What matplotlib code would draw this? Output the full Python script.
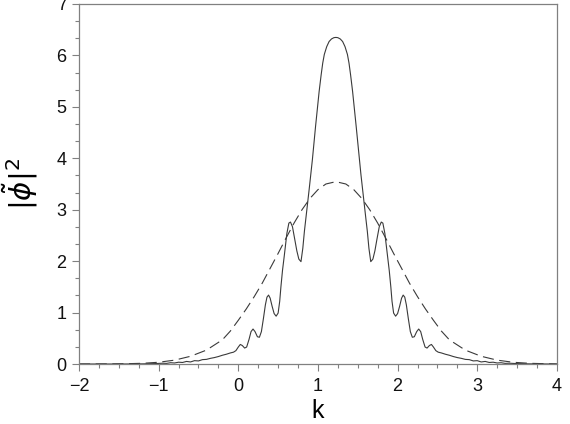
import numpy as np
import matplotlib.pyplot as plt

plt.rcParams['font.family'] = ['Liberation Sans', 'DejaVu Sans']
plt.rcParams['mathtext.fontset'] = 'dejavusans'

# solid curve: |phi~|^2 (k, value)
k_solid = [-2.0, -1.5, -1.2, -1.05, -0.95, -0.9, -0.85, -0.8, -0.75, -0.7,
           -0.65, -0.6, -0.55, -0.5, -0.45, -0.4, -0.35, -0.3, -0.25, -0.2,
           -0.15, -0.1, -0.06, -0.03, 0.0, 0.025, 0.05, 0.08, 0.105, 0.135,
           0.16, 0.185, 0.21, 0.24, 0.265, 0.29, 0.315, 0.34, 0.36, 0.38,
           0.40, 0.425, 0.45, 0.475, 0.50, 0.52, 0.535, 0.555, 0.577, 0.61,
           0.635, 0.655, 0.68, 0.71, 0.735, 0.76, 0.787, 0.81, 0.83, 0.85,
           0.87, 0.89, 0.91, 0.93, 0.95, 0.97, 0.995, 1.015, 1.04, 1.06,
           1.08, 1.11, 1.14, 1.17, 1.20, 1.225,
           1.25, 1.28, 1.31, 1.34, 1.37, 1.39, 1.41, 1.435, 1.455, 1.48,
           1.50, 1.52, 1.54, 1.56, 1.58, 1.60, 1.62, 1.64, 1.663, 1.69,
           1.715, 1.74, 1.77, 1.795, 1.815, 1.84, 1.873, 1.895, 1.915, 1.93,
           1.95, 1.975, 2.00, 2.025, 2.05, 2.07, 2.09, 2.11, 2.135, 2.16,
           2.185, 2.21, 2.24, 2.265, 2.29, 2.315, 2.345, 2.37, 2.40, 2.425,
           2.45, 2.48, 2.51, 2.55, 2.60, 2.65, 2.70, 2.75, 2.80, 2.85,
           2.90, 2.95, 3.00, 3.05, 3.10, 3.15, 3.20, 3.25, 3.30, 3.35,
           3.40, 3.50, 3.65, 3.95, 4.0]
v_solid = [0.0, 0.0, 0.003, 0.008, 0.015, 0.012, 0.025, 0.02, 0.035, 0.03,
           0.05, 0.04, 0.065, 0.06, 0.085, 0.09, 0.11, 0.125, 0.145, 0.17,
           0.19, 0.215, 0.23, 0.26, 0.33, 0.38, 0.36, 0.31, 0.33, 0.48,
           0.63, 0.68, 0.63, 0.53, 0.52, 0.63, 0.88, 1.15, 1.30, 1.34,
           1.28, 1.12, 0.98, 0.93, 0.99, 1.22, 1.50, 1.82, 2.10, 2.54,
           2.74, 2.76, 2.67, 2.42, 2.20, 2.04, 1.99, 2.25, 2.58, 2.85,
           3.12, 3.40, 3.68, 3.97, 4.30, 4.62, 5.00, 5.30, 5.62, 5.85,
           6.02, 6.17, 6.27, 6.32, 6.345, 6.35,
           6.345, 6.32, 6.27, 6.17, 6.02, 5.85, 5.62, 5.30, 5.00, 4.62,
           4.30, 3.97, 3.68, 3.40, 3.12, 2.85, 2.58, 2.25, 1.99, 2.04,
           2.20, 2.42, 2.67, 2.76, 2.74, 2.54, 2.10, 1.82, 1.50, 1.22,
           0.99, 0.93, 0.98, 1.12, 1.28, 1.34, 1.30, 1.15, 0.88, 0.63,
           0.52, 0.53, 0.63, 0.68, 0.63, 0.48, 0.33, 0.31, 0.36, 0.38,
           0.33, 0.26, 0.23, 0.215, 0.19, 0.17, 0.145, 0.125, 0.11, 0.09,
           0.085, 0.06, 0.065, 0.04, 0.05, 0.03, 0.035, 0.02, 0.025, 0.012,
           0.015, 0.008, 0.003, 0.0, 0.0]

# dashed curve (k, value)
k_dash = [-2.0, -1.6, -1.4, -1.2, -1.0, -0.8, -0.6, -0.4, -0.2, -0.1,
          0.0, 0.1, 0.2, 0.3, 0.4, 0.5, 0.6, 0.7, 0.8, 0.9,
          1.0, 1.1, 1.225, 1.35, 1.45, 1.55, 1.65, 1.75, 1.85, 1.95,
          2.05, 2.15, 2.25, 2.35, 2.45, 2.55, 2.65, 2.85, 3.05, 3.25,
          3.45, 3.65, 3.85, 4.0]
v_dash = [0.0, 0.002, 0.006, 0.014, 0.034, 0.075, 0.15, 0.27, 0.47, 0.64,
          0.85, 1.07, 1.31, 1.57, 1.86, 2.15, 2.45, 2.74, 3.00, 3.22,
          3.39, 3.50, 3.545, 3.50, 3.39, 3.22, 3.00, 2.74, 2.45, 2.15,
          1.86, 1.57, 1.31, 1.07, 0.85, 0.64, 0.47, 0.27, 0.15, 0.075,
          0.034, 0.014, 0.006, 0.0]

fig = plt.figure(figsize=(5.7, 4.24), dpi=100)
ax = fig.add_axes([0.1386, 0.1415, 0.977 - 0.1386, 0.9906 - 0.1415])

ax.plot(k_solid, v_solid, color='#3a3a3a', lw=0.8)
ax.plot(k_dash, v_dash, color='#3a3a3a', lw=0.8, dashes=(10, 5))

ax.set_xlim(-2, 4)
ax.set_ylim(0, 7)
ax.set_xticks(np.arange(-2, 5, 1))
ax.set_xticks(np.arange(-2, 4.01, 0.25), minor=True)
ax.set_yticks(np.arange(0, 8, 1))
ax.set_yticks(np.arange(0, 7.01, 1 / 3), minor=True)
ax.set_xticklabels(['\u22122', '\u22121', '0', '1', '2', '3', '4'])

for s in ax.spines.values():
    s.set_color('#808080')
    s.set_linewidth(0.9)
ax.tick_params(which='both', direction='out', color='#808080', width=0.8,
               top=False, right=False, labelsize=13, labelcolor='#111111')
ax.tick_params(which='major', length=5)
ax.tick_params(which='minor', length=3)
ax.tick_params(axis='x', pad=5)
ax.tick_params(axis='y', pad=4)

ax.set_xlabel('k', fontsize=18, labelpad=3)
ax.set_ylabel(r'$|\tilde{\phi}|^2$', fontsize=21, labelpad=12)

fig.savefig('out.png', dpi=100)
